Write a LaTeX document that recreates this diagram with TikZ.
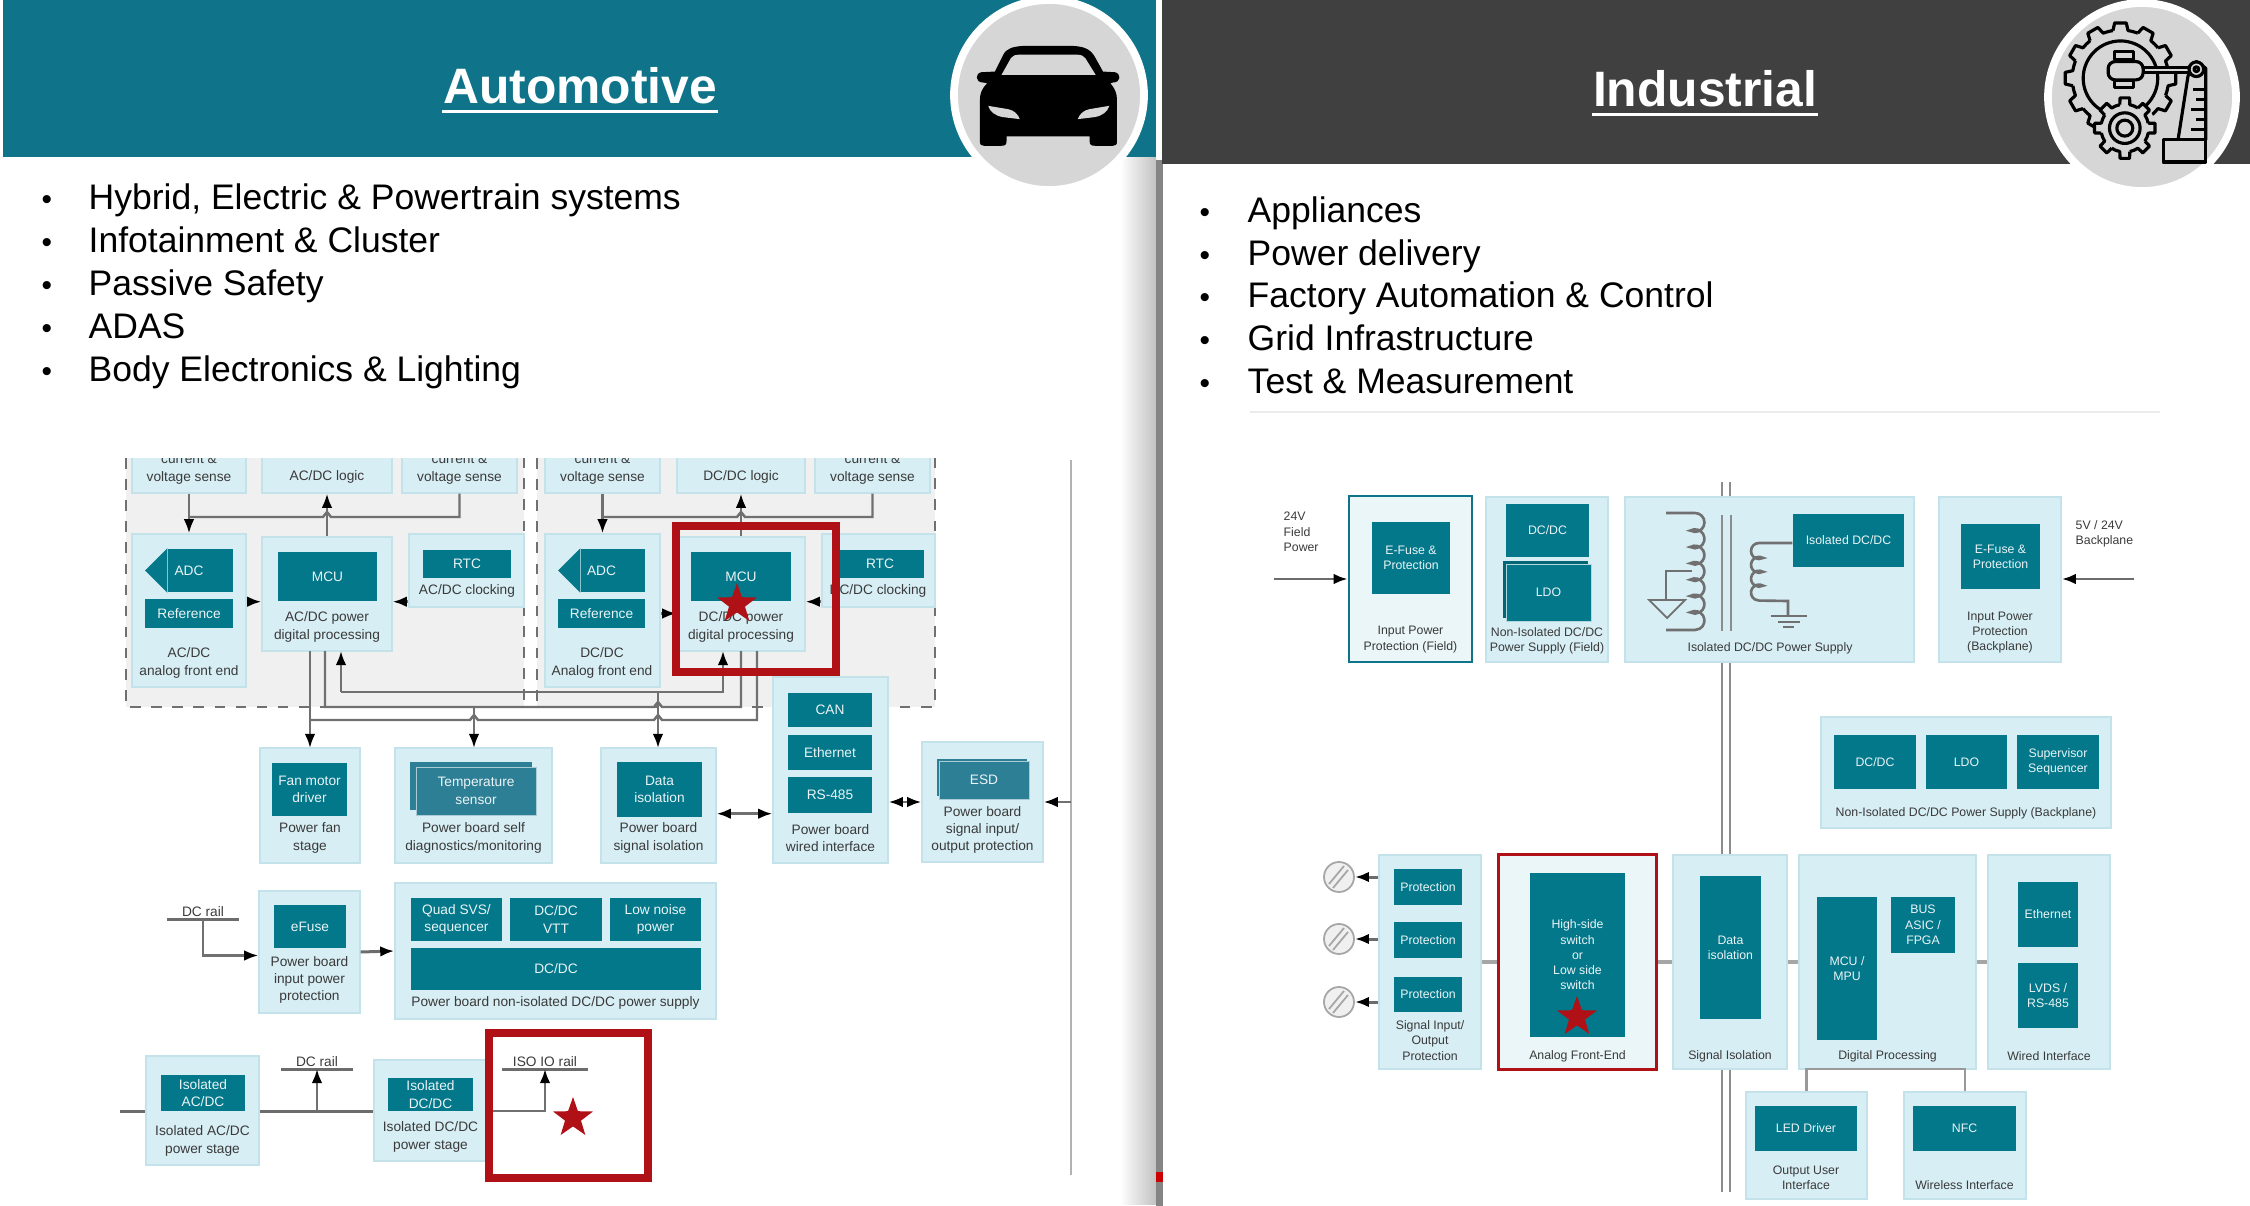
\documentclass[tikz,border=0pt]{standalone}
\usepackage{fontspec}
\setmainfont{Liberation Sans}
\usepackage{xcolor}
\usetikzlibrary{arrows.meta,shapes.geometric,calc}
\definecolor{headteal}{HTML}{0F748A}
\definecolor{headdark}{HTML}{404040}
\definecolor{blockteal}{HTML}{02788A}
\definecolor{layerteal}{HTML}{2D7F96}
\definecolor{paleblue}{HTML}{D7EEF4}
\definecolor{paleline}{HTML}{C4E2EA}
\definecolor{palest}{HTML}{EAF6F8}
\definecolor{redbox}{HTML}{B01116}
\definecolor{wiregray}{HTML}{707070}
\definecolor{labelgray}{HTML}{3A3A3A}
\definecolor{icongray}{HTML}{D6D6D6}
\tikzset{
  wh/.style 2 args={minimum width=#1*0.01cm, minimum height=#2*0.01cm},
  panel/.style={
    draw=paleline,
    fill=paleblue,
    line width=0.4pt,
    inner sep=0pt
  },
  block/.style={
    draw=none,
    fill=blockteal,
    text=white!92!blockteal,
    inner sep=0pt,
    align=center,
    font=\fontsize{3.9}{4.95}\selectfont
  },
  blockB/.style={
    block,
    font=\fontsize{3.5}{4.35}\selectfont
  },
  lbl/.style={
    text=labelgray,
    inner sep=0pt,
    align=center,
    font=\fontsize{3.9}{4.95}\selectfont
  },
  lblB/.style={
    lbl,
    font=\fontsize{3.5}{4.35}\selectfont
  },
  bulletline/.style={
    anchor=base west,
    inner sep=0pt,
    text=black,
    font=\fontsize{10.1}{12}\selectfont
  },
  bulletdot/.style={
    bulletline,
    font=\fontsize{8.5}{12}\selectfont
  },
  titletext/.style={
    font=\fontsize{14.15}{16}\selectfont\bfseries,
    text=white,
    inner sep=0pt
  },
  wire/.style={
    draw=wiregray,
    line width=0.7pt
  },
  wireB/.style={
    draw=gray!85!black,
    line width=0.85pt
  },
  wireC/.style={
    draw=black!40,
    line width=0.8pt
  },
  railline/.style={
    draw=black!45,
    line width=0.6pt
  },
  tip/.style={-{Latex[length=4pt,width=3pt,black]}},
  tiptwo/.style={{Latex[length=4pt,width=3pt,black]}-{Latex[length=4pt,width=3pt,black]}},
  hilite/.style={
    draw=redbox,
    line width=2pt,
    inner sep=0pt
  },
  redstar/.style={
    star,
    star points=5,
    star point ratio=2.5,
    fill=redbox,
    draw=none,
    inner sep=0pt,
    minimum size=0.42cm
  },
  iconline/.style={
    draw=black,
    line width=0.9pt,
    fill=icongray,
    line join=round
  },
  terminal/.style={
    circle,
    draw=black!35,
    fill=black!6,
    line width=0.5pt,
    minimum size=0.3cm,
    inner sep=0pt
  }
}
\begin{document}
\begin{tikzpicture}[x=0.01cm,y=-0.01cm]
    \useasboundingbox (0,0) rectangle (2250,1206);
    % divider and header bands
    \shade[left color=white, right color=black!24] (1120,157) rectangle (1156,1204);
    \fill[black!48] (1156,160) rectangle (1163,1206);
    \fill[red!80!black] (1156,1172) rectangle (1163,1182);
    \fill[headteal] (3,0) rectangle (1156,157);
    \fill[headdark] (1162,0) rectangle (2250,164);
    \node[titletext] (autotitle) at (580,86) {Automotive};
    \node[titletext] (indtitle) at (1705,89) {Industrial};
    \draw[white, line width=1.1pt] ([yshift=-2.2pt]autotitle.base west) -- ([yshift=-2.2pt]autotitle.base east);
    \draw[white, line width=1.1pt] ([yshift=-2.2pt]indtitle.base west) -- ([yshift=-2.2pt]indtitle.base east);
    \draw[white, line width=2.2pt, fill=icongray] (1049,95) circle (95);
    \draw[white, line width=2.2pt, fill=icongray] (2142,97) circle (94);
    % car icon
    \begin{scope}[shift={(900,0)},x=0.003333cm,y=-0.003333cm]
        \fill[black] (285,215) -- (310,165) .. controls (320,145) and (340,140) .. (370,138) -- (520,138)
            .. controls (550,140) and (570,145) .. (585,170) -- (610,215) -- (645,217)
            .. controls (665,220) and (665,248) .. (640,248) -- (632,250)
            .. controls (645,265) and (652,280) .. (652,300) -- (652,425)
            .. controls (652,435) and (648,438) .. (640,438) -- (585,438)
            .. controls (575,438) and (570,435) .. (570,425) -- (570,410) -- (320,410) -- (320,425)
            .. controls (320,435) and (315,438) .. (305,438) -- (252,438)
            .. controls (244,438) and (240,435) .. (240,425) -- (240,300)
            .. controls (240,280) and (247,265) .. (262,250) -- (250,248)
            .. controls (225,248) and (225,220) .. (245,217) -- cycle;
        \fill[icongray] (305,225) -- (333,175) .. controls (338,167) and (345,165) .. (360,164) -- (530,164)
            .. controls (545,165) and (552,167) .. (557,175) -- (588,225) -- cycle;
        \fill[icongray] (265,318) -- (325,328) .. controls (345,332) and (355,345) .. (360,358)
            -- (310,352) .. controls (285,348) and (270,335) .. cycle;
        \fill[icongray] (629,318) -- (569,328) .. controls (549,332) and (539,345) .. (534,358)
            -- (584,352) .. controls (609,348) and (624,335) .. cycle;
    \end{scope}
    % gear icon
    \begin{scope}[shift={(2000,0)},x=0.003333cm,y=-0.003333cm]
        \foreach \a in {0,30,...,330}{
            \draw[iconline,fill=none] ($(362,235)+(\a-9:145)$) -- ($(362,235)+(\a-6:167)$) -- ($(362,235)+(\a+6:167)$) -- ($(362,235)+(\a+9:145)$) arc (\a+9:\a+21:145);
        }
        \draw[iconline,fill=none] (362,235) circle (112);
        \fill[icongray] (375,385) circle (92);
        \foreach \a in {0,45,...,315}{
            \draw[iconline,fill=none] ($(375,385)+(\a-12:72)$) -- ($(375,385)+(\a-9:92)$) -- ($(375,385)+(\a+9:92)$) -- ($(375,385)+(\a+12:72)$) arc (\a+12:\a+33:72);
        }
        \draw[iconline,fill=none] (375,385) circle (46);
        \draw[iconline,fill=none] (375,385) circle (24);
        \draw[iconline] (345,155) rectangle (400,178);
        \draw[iconline] (345,242) rectangle (400,262);
        \draw[iconline,rounded corners=2pt] (325,185) rectangle (430,240);
        \draw[iconline] (430,202) rectangle (572,218);
        \draw[iconline] (565,228) -- (535,420) -- (618,420) -- (618,205) -- (590,185) -- cycle;
        \draw[iconline] (590,208) circle (22);
        \draw[iconline,fill=none] (590,208) circle (7);
        \draw[iconline,fill=none] (618,270) -- (580,270);
        \draw[iconline,fill=none] (618,300) -- (590,300);
        \draw[iconline,fill=none] (618,330) -- (575,330);
        \draw[iconline,fill=none] (618,360) -- (590,360);
        \draw[iconline,fill=none] (618,390) -- (575,390);
        \draw[iconline] (490,420) rectangle (618,487);
    \end{scope}
    % bullets
    \node[bulletdot] (abul) at (41,209) {•};
    \node[bulletline] (atxt) at (88,209) {Hybrid, Electric \& Powertrain systems};
    \node[bulletdot] (bbul) at (41,252) {•};
    \node[bulletline] (btxt) at (88,252) {Infotainment \& Cluster};
    \node[bulletdot] (cbul) at (41,295) {•};
    \node[bulletline] (ctxt) at (88,295) {Passive Safety};
    \node[bulletdot] (dbul) at (41,338) {•};
    \node[bulletline] (dtxt) at (88,338) {ADAS};
    \node[bulletdot] (ebul) at (41,381) {•};
    \node[bulletline] (etxt) at (88,381) {Body Electronics \& Lighting};
    %
    \node[bulletdot] (fbul) at (1199,222) {•};
    \node[bulletline] (ftxt) at (1247,222) {Appliances};
    \node[bulletdot] (gbul) at (1199,265) {•};
    \node[bulletline] (gtxt) at (1247,265) {Power delivery};
    \node[bulletdot] (hbul) at (1199,307) {•};
    \node[bulletline] (htxt) at (1247,307) {Factory Automation \& Control};
    \node[bulletdot] (ibul) at (1199,350) {•};
    \node[bulletline] (itxt) at (1247,350) {Grid Infrastructure};
    \node[bulletdot] (jbul) at (1199,393) {•};
    \node[bulletline] (jtxt) at (1247,393) {Test \& Measurement};
    \draw[black!8, line width=0.4pt] (1250,412) -- (2160,412);
    % automotive: grey zones, top is cut off
    \fill[black!6] (126,458) rectangle (524,707);
    \fill[black!6] (537,458) rectangle (935,707);
    \draw[wiregray, dashed, line width=0.6pt] (126,458) -- (126,707) -- (524,707) -- (524,458);
    \draw[wiregray, dashed, line width=0.6pt] (537,458) -- (537,707) -- (935,707) -- (935,458);
    \draw[black!30, line width=0.5pt] (1071,460) -- (1071,1175);
    % sense row
    \begin{scope}
        \clip (120,458) rectangle (940,500);
        \node[panel,wh={114}{40}] (sensea) at (189,473) {};
        \node[panel,wh={130}{40}] (logica) at (327,473) {};
        \node[panel,wh={115}{40}] (senseb) at (459.5,473) {};
        \node[panel,wh={115}{40}] (sensec) at (602.5,473) {};
        \node[panel,wh={128}{40}] (logicb) at (741,473) {};
        \node[panel,wh={115}{40}] (sensed) at (872.5,473) {};
        \node[lbl] (sensealbl) at (189,469) {current \&\\voltage sense};
        \node[lbl] (logicalbl) at (327,477) {AC/DC logic};
        \node[lbl] (senseblbl) at (459.5,469) {current \&\\voltage sense};
        \node[lbl] (senseclbl) at (602.5,469) {current \&\\voltage sense};
        \node[lbl] (logicblbl) at (741,477) {DC/DC logic};
        \node[lbl] (sensedlbl) at (872.5,469) {current \&\\voltage sense};
    \end{scope}
    % AC/DC half
    \node[panel,wh={114}{153}] (afea) at (189,610.5) {};
    \node[block, shape=rectangle,wh={65}{43}] (adcabody) at (200.5,570.5) {};
    \fill[blockteal] (adcabody.north west) -- (145,570.5) -- (adcabody.south west) -- cycle;
    \node[text=white!92!blockteal, font=\fontsize{3.9}{4.95}\selectfont, inner sep=0pt] (adcatxt) at (189,570.5) {ADC};
    \node[block,wh={88}{29}] (refa) at (189,613.5) {Reference};
    \node[lbl] (afealbl) at (189,663) {AC/DC\\analog front end};
    \node[panel,wh={130}{114}] (mcupa) at (327,594) {};
    \node[block,wh={99}{49}] (mcua) at (327.5,576.5) {MCU};
    \node[lbl] (mcupalbl) at (327,627) {AC/DC power\\digital processing};
    \node[panel,wh={115}{73}] (rtcpa) at (466.5,570.5) {};
    \node[block,wh={88}{28}] (rtca) at (467,564) {RTC};
    \node[lbl] (rtcalbl) at (467,591) {AC/DC clocking};
    % DC/DC half
    \node[panel,wh={115}{153}] (afeb) at (602.5,610.5) {};
    \node[block, shape=rectangle,wh={64}{43}] (adcbbody) at (613,570.5) {};
    \fill[blockteal] (adcbbody.north west) -- (558,570.5) -- (adcbbody.south west) -- cycle;
    \node[text=white!92!blockteal, font=\fontsize{3.9}{4.95}\selectfont, inner sep=0pt] (adcbtxt) at (601.5,570.5) {ADC};
    \node[block,wh={87}{29}] (refb) at (601.5,613.5) {Reference};
    \node[lbl] (afeblbl) at (602,663) {DC/DC\\Analog front end};
    \node[panel,wh={128}{114}] (mcupb) at (741,594) {};
    \node[block,wh={100}{49}] (mcub) at (741,576.5) {MCU};
    \node[lbl] (mcupblbl) at (741,627) {DC/DC power\\digital processing};
    \node[panel,wh={113}{73}] (rtcpb) at (878.5,570.5) {};
    \node[block,wh={88}{28}] (rtcb) at (880,564) {RTC};
    \node[lbl] (rtcblbl) at (878,591) {DC/DC clocking};
    % arrows in the zones
    \coordinate (busa) at (189,517);
    \coordinate (busb) at (602.5,517);
    \draw[wire,tip] (sensea.south) -- (afea.north);
    \draw[wire] (senseb.south) -- (459.5,517) -- (331,517) -- (327,512) -- (323,517) -- (busa);
    \draw[wire,tip] (mcupa.north) -- (logica.south);
    \draw[wire,tip] (sensec.south) -- (afeb.north);
    \draw[wire] (sensed.south) -- (872.5,517) -- (745,517) -- (741,512) -- (737,517) -- (busb);
    \draw[wire,tip] (mcupb.north) -- (logicb.south);
    \draw[wire,tip] (afea.east |- mcua.south) -- (mcupa.west |- mcua.south);
    \draw[wire,tip] (rtcpa.west |- mcua.south) -- (mcupa.east |- mcua.south);
    \draw[wire,tip] (afeb.east |- refb) -- (mcupb.west |- refb);
    \draw[wire,tip] (rtcpb.west |- mcub.south) -- (mcupb.east |- mcub.south);
    % lower row of the automotive side
    \node[panel,wh={100}{115}] (fanp) at (310,805.5) {};
    \node[block,wh={75}{53}] (fan) at (309.5,789.5) {Fan motor\\driver};
    \node[lbl] (fanlbl) at (310,838) {Power fan\\stage};
    \node[panel,wh={157}{115}] (tempp) at (473.5,805.5) {};
    \fill[layerteal] (410,762) rectangle (532,810);
    \node[block,draw=white!60!layerteal,line width=0.2pt,fill=layerteal,wh={120}{48}] (temp) at (476,791) {Temperature\\sensor};
    \node[lbl] (templbl) at (473.5,838) {Power board self\\diagnostics/monitoring};
    \node[panel,wh={115}{115}] (datap) at (658.5,805.5) {};
    \node[block,wh={85}{55}] (data) at (659.5,789.5) {Data\\isolation};
    \node[lbl] (datalbl) at (658.5,838) {Power board\\signal isolation};
    \node[panel,wh={115}{186}] (wirep) at (830.5,770) {};
    \node[block,wh={84}{34}] (can) at (830,710) {CAN};
    \node[block,wh={84}{35}] (eth) at (830,752.5) {Ethernet};
    \node[block,wh={84}{36}] (rsf) at (830,795) {RS-485};
    \node[lbl] (wirelbl) at (830.5,838) {Power board\\wired interface};
    \node[panel,wh={121}{120}] (esdp) at (982.5,802) {};
    \fill[layerteal] (937,759) rectangle (1027,796);
    \node[block,draw=white!60!layerteal,line width=0.2pt,fill=layerteal,wh={90}{38}] (esd) at (984,780) {ESD};
    \node[lbl] (esdlbl) at (982.5,830) {Power board\\signal input/\\output protection};
    % bus of the two MCUs
    \coordinate (mcuainc) at (341,651);
    \coordinate (mcubinc) at (723,651);
    \coordinate (mcuaoutb) at (325,651);
    \coordinate (mcuboutb) at (741,651);
    \coordinate (mcuaoutc) at (310,651);
    \coordinate (mcuboutc) at (757,651);
    \coordinate (fantop) at (310,748);
    \coordinate (temptop) at (474,748);
    \coordinate (datatop) at (658,748);
    \draw[wire,tip] (341,692) -- (mcuainc);
    \draw[wire,tip] (341,692) -- (723,692) -- (mcubinc);
    \draw[wire] (mcuaoutb) -- (325,707) -- (654,707) -- (658,702) -- (662,707) -- (741,707) -- (mcuboutb);
    \draw[wire,tip] (mcuaoutc) -- (fantop);
    \draw[wire] (310,720) -- (470,720) -- (474,715) -- (478,720) -- (654,720) -- (658,715) -- (662,720) -- (757,720) -- (mcuboutc);
    \draw[wire,tip] (474,707) -- (temptop);
    \draw[wire,tip] (658,692) -- (datatop);
    \draw[wire,tiptwo] (datap.east |- rsf.south) -- (wirep.west |- rsf.south);
    \draw[wire,tiptwo] (wirep.east |- esdp) -- (esdp.west);
    \draw[wire,tip] (1071,802) -- (esdp.east);
    % power rows
    \node[panel,wh={101}{122}] (fusep) at (309.5,952) {};
    \node[block,wh={72}{43}] (fuse) at (310,926.5) {eFuse};
    \node[lbl] (fuselbl) at (309.5,980) {Power board\\input power\\protection};
    \node[panel,wh={321}{136}] (nisop) at (555.5,951) {};
    \node[block,wh={91}{43}] (quad) at (456.5,919.5) {Quad SVS/\\sequencer};
    \node[block,wh={92}{43}] (vtt) at (556,919.5) {DC/DC\\VTT};
    \node[block,wh={91}{43}] (lownoise) at (655.5,919.5) {Low noise\\power};
    \node[block,wh={290}{42}] (dcdcwide) at (556,969) {DC/DC};
    \node[lbl] (nisolbl) at (555.5,1003) {Power board non-isolated DC/DC power supply};
    \node[lbl,anchor=south] (raila) at (203,917) {DC rail};
    \coordinate (railaleft) at (167,919);
    \coordinate (railaright) at (239,919);
    \coordinate (railatap) at (203,919);
    \draw[wireB] (railaleft) -- (railaright);
    \draw[wire,tip] (railatap) |- (fusep.west |- fuselbl.north);
    \draw[wireB,tip] (fusep.east) -- (nisop.west);
    \node[panel,wh={113}{109}] (isoacp) at (202.5,1110.5) {};
    \node[block,wh={84}{36}] (isoac) at (203,1093) {Isolated\\AC/DC};
    \node[lbl] (isoaclbl) at (202.5,1141) {Isolated AC/DC\\power stage};
    \node[panel,wh={116}{101}] (isodcp) at (432,1110.5) {};
    \node[block,wh={85}{33}] (isodc) at (430.5,1094.5) {Isolated\\DC/DC};
    \node[lbl] (isodclbl) at (430.5,1137) {Isolated DC/DC\\power stage};
    \node[lbl,anchor=south] (railb) at (317,1067) {DC rail};
    \node[lbl,anchor=south] (railc) at (545,1067) {ISO IO rail};
    \coordinate (feedin) at (120,1111);
    \coordinate (railbleft) at (281,1069);
    \coordinate (railbright) at (353,1069);
    \coordinate (railbtap) at (317,1069);
    \coordinate (railcleft) at (502,1069);
    \coordinate (railcright) at (588,1069);
    \coordinate (railctap) at (545,1069);
    \draw[wireB] (feedin) -- (isoacp.west |- feedin);
    \draw[wireB] (isoacp.east |- feedin) -- (isodcp.west |- feedin);
    \draw[wireB] (railbleft) -- (railbright);
    \draw[wireB] (railcleft) -- (railcright);
    \draw[wire,tip] (317,1111) -- (railbtap);
    \draw[wire,tip] (isodcp.east |- feedin) -| (railctap);
    % highlights on the automotive side
    \node[hilite,wh={160}{146}] (redmcu) at (756,599) {};
    \node[redstar] (starmcu) at (737,604) {};
    \node[hilite,wh={159}{145}] (rediso) at (568.5,1105.5) {};
    \node[redstar] (stariso) at (573,1118) {};
    % industrial: rails behind the boxes
    \coordinate (railltop) at (1722,482);
    \coordinate (raillbot) at (1722,1192);
    \coordinate (railrtop) at (1730,482);
    \coordinate (railrbot) at (1730,1192);
    \draw[railline] (railltop) -- (raillbot);
    \draw[railline] (railrtop) -- (railrbot);
    % top row
    \node[panel,draw=headteal,fill=palest,line width=0.7pt,wh={123}{166}] (fieldp) at (1410.5,579) {};
    \node[blockB,wh={78}{72}] (fielde) at (1411,558) {E-Fuse \&\\Protection};
    \node[lblB] (fieldlbl) at (1410.5,639.5) {Input Power\\Protection (Field)};
    \node[panel,wh={122}{165}] (nifp) at (1547,579.5) {};
    \node[blockB,wh={83}{53}] (nifdc) at (1547.5,530.5) {DC/DC};
    \fill[blockteal!85!black] (1503,561) rectangle (1588,618);
    \node[blockB,draw=white!70!blockteal,line width=0.2pt,wh={85}{57}] (nifldo) at (1548.5,592.5) {LDO};
    \node[lblB] (niflbl) at (1547,640.5) {Non-Isolated DC/DC\\Power Supply (Field)};
    \node[panel,wh={289}{165}] (isop) at (1769.5,579.5) {};
    \node[blockB,wh={111}{53}] (isob) at (1848.5,540.5) {Isolated DC/DC};
    \node[lblB] (isolbl) at (1770,648) {Isolated DC/DC Power Supply};
    \node[panel,wh={122}{165}] (backp) at (2000,579.5) {};
    \node[blockB,wh={79}{65}] (backe) at (2000.5,556.5) {E-Fuse \&\\Protection};
    \node[lblB] (backlbl) at (2000,632.5) {Input Power\\Protection\\(Backplane)};
    \node[lblB,align=left,anchor=west] (fieldin) at (1283,532) {24V\\Field\\Power};
    \node[lblB,align=left,anchor=west] (backin) at (2075,533.5) {5V / 24V\\Backplane};
    \coordinate (fieldfree) at (1274,579);
    \coordinate (backfree) at (2134,579);
    \draw[wireB,tip] (fieldfree) -- (fieldp.west |- fieldfree);
    \draw[wireB,tip] (backfree) -- (backp.east |- backfree);
    % transformer
    \draw[railline] (1722,515) -- (1722,631);
    \draw[railline] (1731,515) -- (1731,631);
    \draw[wire,line width=0.75pt] (1666,513) -- (1695,513)
        arc (-90:120:9.44) arc (-120:120:9.44) arc (-120:120:9.44) arc (-120:120:9.44) arc (-120:120:9.44) arc (-120:120:9.44) arc (-120:90:9.44) -- (1666,630);
    \draw[wire,line width=0.75pt] (1692,571) -- (1666,571) -- (1666,600);
    \draw[wire,line width=0.5pt] (1649,600) -- (1685,600) -- (1667,618) -- cycle;
    \coordinate (sectop) at (1759,543);
    \draw[wire,line width=0.75pt] (sectop -| isob.west) -- (sectop)
        arc (-90:-300:8) arc (-60:-300:8) arc (-60:-300:8) arc (-60:-270:8) -- (1788,601) -- (1788,616);
    \draw[wire,line width=0.75pt] (1771,616) -- (1807,616);
    \draw[wire,line width=0.75pt] (1778,622) -- (1800,622);
    \draw[wire,line width=0.75pt] (1783,627) -- (1794,627);
    % backplane supply
    \node[panel,wh={290}{111}] (nibp) at (1966,772.5) {};
    \node[blockB,wh={82}{54}] (nibdc) at (1875,762) {DC/DC};
    \node[blockB,wh={81}{54}] (nibldo) at (1966.5,762) {LDO};
    \node[blockB,wh={82}{54}] (nibsup) at (2058,762) {Supervisor\\Sequencer};
    \node[lblB] (nibpl) at (1966,813) {Non-Isolated DC/DC Power Supply (Backplane)};
    % main row
    \node[panel,wh={102}{214}] (sigp) at (1430,962) {};
    \node[blockB,wh={68}{36}] (prota) at (1428,887) {Protection};
    \node[blockB,wh={68}{36}] (protb) at (1428,940) {Protection};
    \node[blockB,wh={68}{35}] (protc) at (1428,994.5) {Protection};
    \node[lblB] (siglbl) at (1430,1040.5) {Signal Input/\\Output\\Protection};
    \node[panel,draw=redbox,fill=palest,line width=1pt,wh={158}{215}] (afep) at (1577.5,962) {};
    \node[blockB,wh={95}{164}] (hss) at (1577.5,955) {};
    \node[lblB,text=white!92!blockteal] (hsstxt) at (1577.5,955) {High-side\\switch\\or\\Low side\\switch};
    \node[lblB] (afelbl) at (1577.5,1056) {Analog Front-End};
    \node[redstar] (starafe) at (1577,1017) {};
    \node[panel,wh={114}{214}] (isosp) at (1730,962) {};
    \node[blockB,wh={61}{143}] (dataiso) at (1730.5,947.5) {Data\\isolation};
    \node[lblB] (isoslbl) at (1730,1056) {Signal Isolation};
    \node[panel,wh={177}{214}] (digp) at (1887.5,962) {};
    \node[blockB,wh={60}{143}] (mcumpu) at (1847,968.5) {MCU /\\MPU};
    \node[blockB,wh={64}{56}] (busasic) at (1923,925) {BUS\\ASIC /\\FPGA};
    \node[lblB] (diglbl) at (1887.5,1056) {Digital Processing};
    \node[panel,wh={122}{214}] (wiredp) at (2049,962) {};
    \node[blockB,wh={60}{65}] (ether) at (2048,914.5) {Ethernet};
    \node[blockB,wh={60}{65}] (lvds) at (2048,995.5) {LVDS /\\RS-485};
    \node[lblB] (wiredlbl) at (2049,1056) {Wired Interface};
    \draw[wireC,line width=1pt,draw=black!35] (sigp.east) -- (afep.west);
    \draw[wireC,line width=1pt,draw=black!35] (afep.east) -- (isosp.west);
    \draw[wireC,line width=1pt,draw=black!35] (isosp.east) -- (digp.west);
    \draw[wireC,line width=1pt,draw=black!35] (digp.east) -- (wiredp.west);
    % terminals
    \node[terminal] (terma) at (1339,877) {};
    \node[terminal] (termb) at (1339,939) {};
    \node[terminal] (termc) at (1339,1002) {};
    \draw[black!35,line width=0.5pt] (1333,888) -- (1348,870) (1329,884) -- (1344,866);
    \draw[black!35,line width=0.5pt] (1333,950) -- (1348,932) (1329,946) -- (1344,928);
    \draw[black!35,line width=0.5pt] (1333,1013) -- (1348,995) (1329,1009) -- (1344,991);
    \draw[wireB,tip] (sigp.west |- terma) -- (terma.east);
    \draw[wireB,tip] (sigp.west |- termb) -- (termb.east);
    \draw[wireB,tip] (sigp.west |- termc) -- (termc.east);
    % interface boxes at the bottom
    \node[panel,wh={121}{107}] (outp) at (1806.5,1145.5) {};
    \node[blockB,wh={102}{45}] (led) at (1806,1128.5) {LED Driver};
    \node[lblB] (outlbl) at (1806,1177.5) {Output User\\Interface};
    \node[panel,wh={122}{107}] (wlp) at (1965,1145.5) {};
    \node[blockB,wh={103}{45}] (nfc) at (1964.5,1128.5) {NFC};
    \node[lblB] (wllbl) at (1964.5,1185) {Wireless Interface};
    \draw[wireC] (outp.north) -- (1806.5,1069) -- (1965,1069) -- (wlp.north);
\end{tikzpicture}
\end{document}
